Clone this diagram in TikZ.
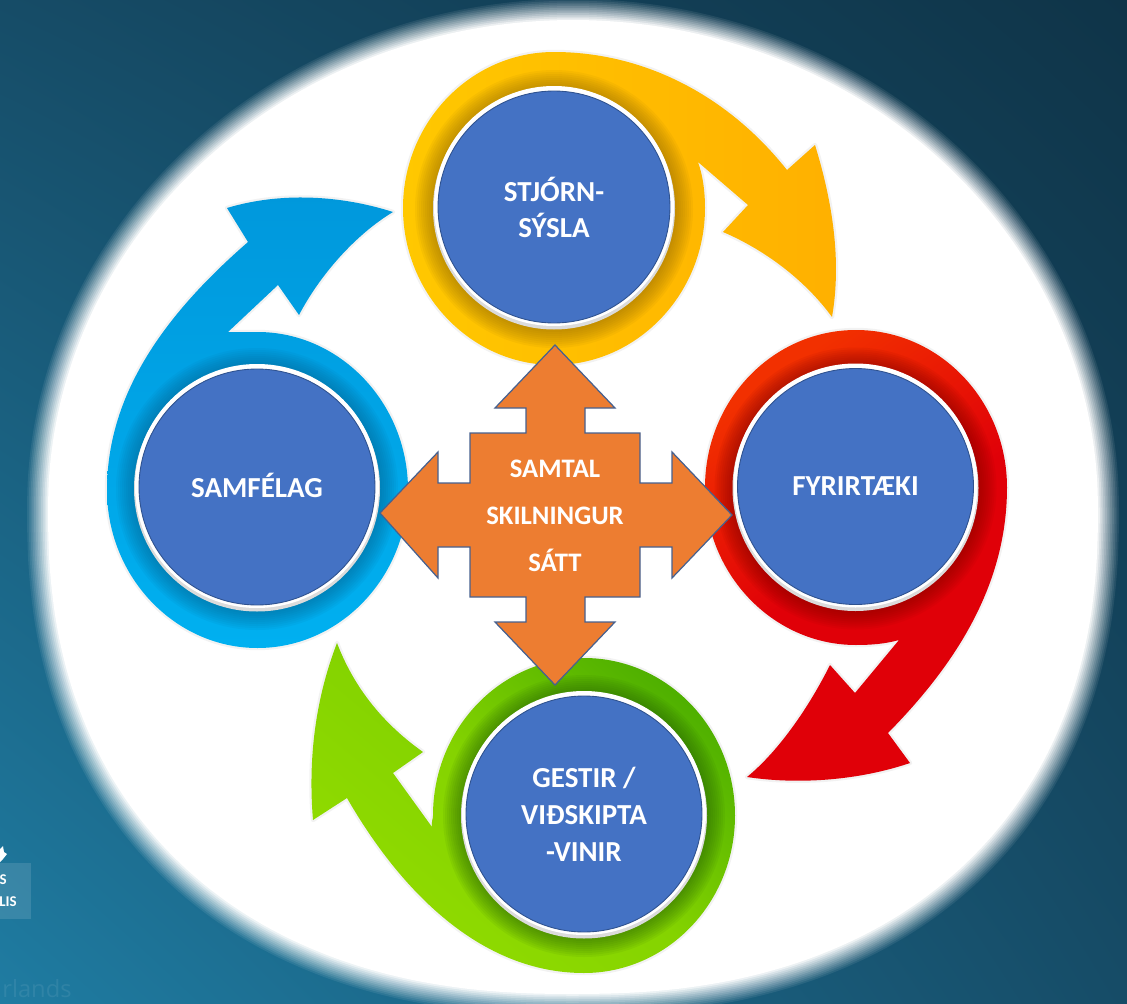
\documentclass[tikz,border=0pt]{standalone}
\usepackage{fontspec}
\usetikzlibrary{shadings}
\setmainfont{Carlito}
\newfontfamily\thinfont{Open Sans}
\definecolor{discblue}{HTML}{4472C4}
\definecolor{discedge}{HTML}{2F528F}
\definecolor{crossfill}{HTML}{ED7D31}
\definecolor{crossedge}{HTML}{47618F}
\definecolor{bgtr}{HTML}{0F3448}
\definecolor{bgmid}{HTML}{164C67}
\definecolor{bgbl}{HTML}{1F7CA2}
\definecolor{yelA}{HTML}{FFC800}
\definecolor{yelB}{HTML}{FFB000}
\definecolor{yelS}{HTML}{8A6400}
\definecolor{redA}{HTML}{F23000}
\definecolor{redB}{HTML}{E00008}
\definecolor{redS}{HTML}{7A0000}
\definecolor{grnA}{HTML}{4FB000}
\definecolor{grnB}{HTML}{92DC00}
\definecolor{grnS}{HTML}{1F5A00}
\definecolor{bluA}{HTML}{0098DC}
\definecolor{bluB}{HTML}{00B0F0}
\definecolor{bluS}{HTML}{005F8C}
\tikzset{
  halo/.style={preaction={draw=black,line width=2.5pt,opacity=.05,line join=round}},
  disc/.style={circle,draw=discedge,line width=.5pt,fill=discblue,text=white,font=\bfseries\fontsize{16.5}{20.5}\selectfont,align=center,inner sep=0pt},
  crosstext/.style={text=white,font=\bfseries\fontsize{15.2}{20}\selectfont,inner sep=0pt},
  logotext/.style={text=white,font=\bfseries\fontsize{8.5}{10}\selectfont,inner sep=0pt,anchor=east}
}
% centre x, centre y, shadow colour, disc radius
\newcommand{\ringglow}[4]{%
  \foreach \k in {0,...,9}{
    \fill[#3,opacity=.065] (#1,#2+2) circle [radius={#4+5+2*\k}];
  }
  \fill[black!14] (#1,#2+1.5) circle [radius={#4+5}];
  \fill[white] (#1,#2-1) circle [radius={#4+4}];
}
\begin{document}
\begin{tikzpicture}[x=0.02cm,y=-0.02cm]
\useasboundingbox (0,0) rectangle (1127,1004);
\clip (0,0) rectangle (1127,1004);
% background
\shade[lower left=bgbl,lower right=bgmid,upper left=bgmid,upper right=bgtr] (0,0) rectangle (1127,1004);
% logo fragments and faint word
\fill[white] (0,849) -- (3,846) -- (4,852) -- (7,854) -- (3,859) -- (0,862) -- cycle;
\path[fill=white,opacity=.12] (0,863) rectangle (31,919);
\node[logotext] (logoa) at (7,880) {S};
\node[logotext] (logob) at (17,902) {LIS};
\node[anchor=base west,inner sep=0pt,text=white,text opacity=.08,font=\thinfont\fontsize{13.5}{16}\selectfont] (faint) at (2,997) {rlands};
% white soft disc: an ellipse above, a fuller curve below
\foreach \i in {0,...,12}{
  \pgfmathsetmacro{\alf}{1/(13-\i)}
  \pgfmathsetmacro{\off}{11-1.75*\i}
  \fill[white,opacity=\alf]
    plot[smooth,domain=180:360,samples=61] ({573+(535+\off)*cos(\x)},{508+(498+\off)*sin(\x)})
    -- plot[smooth,domain=1:179,samples=61] ({573+(535+\off)*(cos(\x)<0?-1:1)*pow(abs(cos(\x)),.87)},{508+(496+\off)*pow(abs(sin(\x)),.87)})
    -- cycle;
}
% yellow
\shade[halo,left color=yelA,right color=yelB]
 (698,162) .. controls (703,176) and (705,192) .. (705,208)
 .. controls (705,294) and (637,365) .. (554,365)
 .. controls (471,365) and (403,294) .. (403,208)
 .. controls (403,122) and (471,52) .. (554,52)
 .. controls (640,52) and (725,92) .. (787,170)
 -- (815,145) .. controls (832,200) and (842,260) .. (832,317)
 .. controls (805,280) and (765,250) .. (723,232) -- (748,205) -- cycle;
% red
\shade[halo,top color=redA,bottom color=redB,middle color=redB,shading angle=35]
 (899,640) .. controls (885,644) and (870,645) .. (856,645)
 .. controls (773,645) and (705,574) .. (705,487.5)
 .. controls (705,400) and (773,330) .. (856,330)
 .. controls (939,330) and (1007,400) .. (1007,487.5)
 .. controls (1007,590) and (950,670) .. (888,733)
 -- (910,763) .. controls (860,780) and (800,785) .. (747,777)
 .. controls (780,750) and (810,705) .. (830,665) -- (855,693) -- cycle;
% green
\shade[halo,top color=grnA,bottom color=grnB,middle color=grnB!80!grnA,shading angle=-40]
 (432,827) .. controls (431,823) and (433,819) .. (433,815.5)
 .. controls (433,728) and (501,658) .. (584,658)
 .. controls (667,658) and (735,728) .. (735,815.5)
 .. controls (735,903) and (667,973) .. (584,973)
 .. controls (480,973) and (400,890) .. (347,798)
 -- (313,820) .. controls (308,760) and (315,700) .. (337,643)
 .. controls (355,690) and (385,725) .. (423,752) -- (393,773) -- cycle;
% blue
\shade[halo,top color=bluA,bottom color=bluB]
 (228,332) .. controls (238,332) and (248,332) .. (257.5,332)
 .. controls (340,332) and (408,403) .. (408,490)
 .. controls (408,577) and (340,648) .. (257.5,648)
 .. controls (175,648) and (107,577) .. (107,490)
 .. controls (107,390) and (170,310) .. (248,242)
 -- (227,208) .. controls (280,192) and (340,195) .. (393,212)
 .. controls (355,235) and (320,275) .. (299,315) -- (278,285) -- cycle;
% glows and rings
\ringglow{554}{207}{yelS}{116}
\ringglow{855.5}{486.5}{redS}{118}
\ringglow{257}{487}{bluS}{118}
\ringglow{584}{814}{grnS}{118}
% discs
\node[disc,minimum size=4.64cm] (stjorn) at (554,207) {STJÓRN-\\SÝSLA};
\node[disc,minimum size=4.72cm] (fyrir) at (855.5,486.5) {FYRIRTÆKI};
\node[disc,minimum size=4.72cm] (samfelag) at (257,487) {\raisebox{1.7pt}{SAMFÉLAG}};
\node[disc,minimum size=4.72cm,font=\bfseries\fontsize{16.5}{21}\selectfont] (gestir) at (584,814) {GESTIR /\\VIÐSKIPTA\\-VINIR};
% cross
\draw[crossedge,fill=crossfill,line width=.7pt,line join=miter]
 (555,345) -- (615,408) -- (585,408) -- (585,433) -- (640,433) -- (640,483) -- (672,483) -- (672,452)
 -- (732,515) -- (672,578) -- (672,547) -- (640,547) -- (640,597) -- (585,597) -- (585,622) -- (615,622)
 -- (555,685) -- (495,622) -- (526,622) -- (526,597) -- (470,597) -- (470,547) -- (438,547) -- (438,578)
 -- (380,513) -- (438,452) -- (438,483) -- (470,483) -- (470,433) -- (526,433) -- (526,408) -- (495,408) -- cycle;
\node[crosstext] (samtal) at (555,469) {SAMTAL};
\node[crosstext] (skiln) at (555,516) {SKILNINGUR};
\node[crosstext] (satt) at (555,560) {SÁTT};
\end{tikzpicture}
\end{document}
